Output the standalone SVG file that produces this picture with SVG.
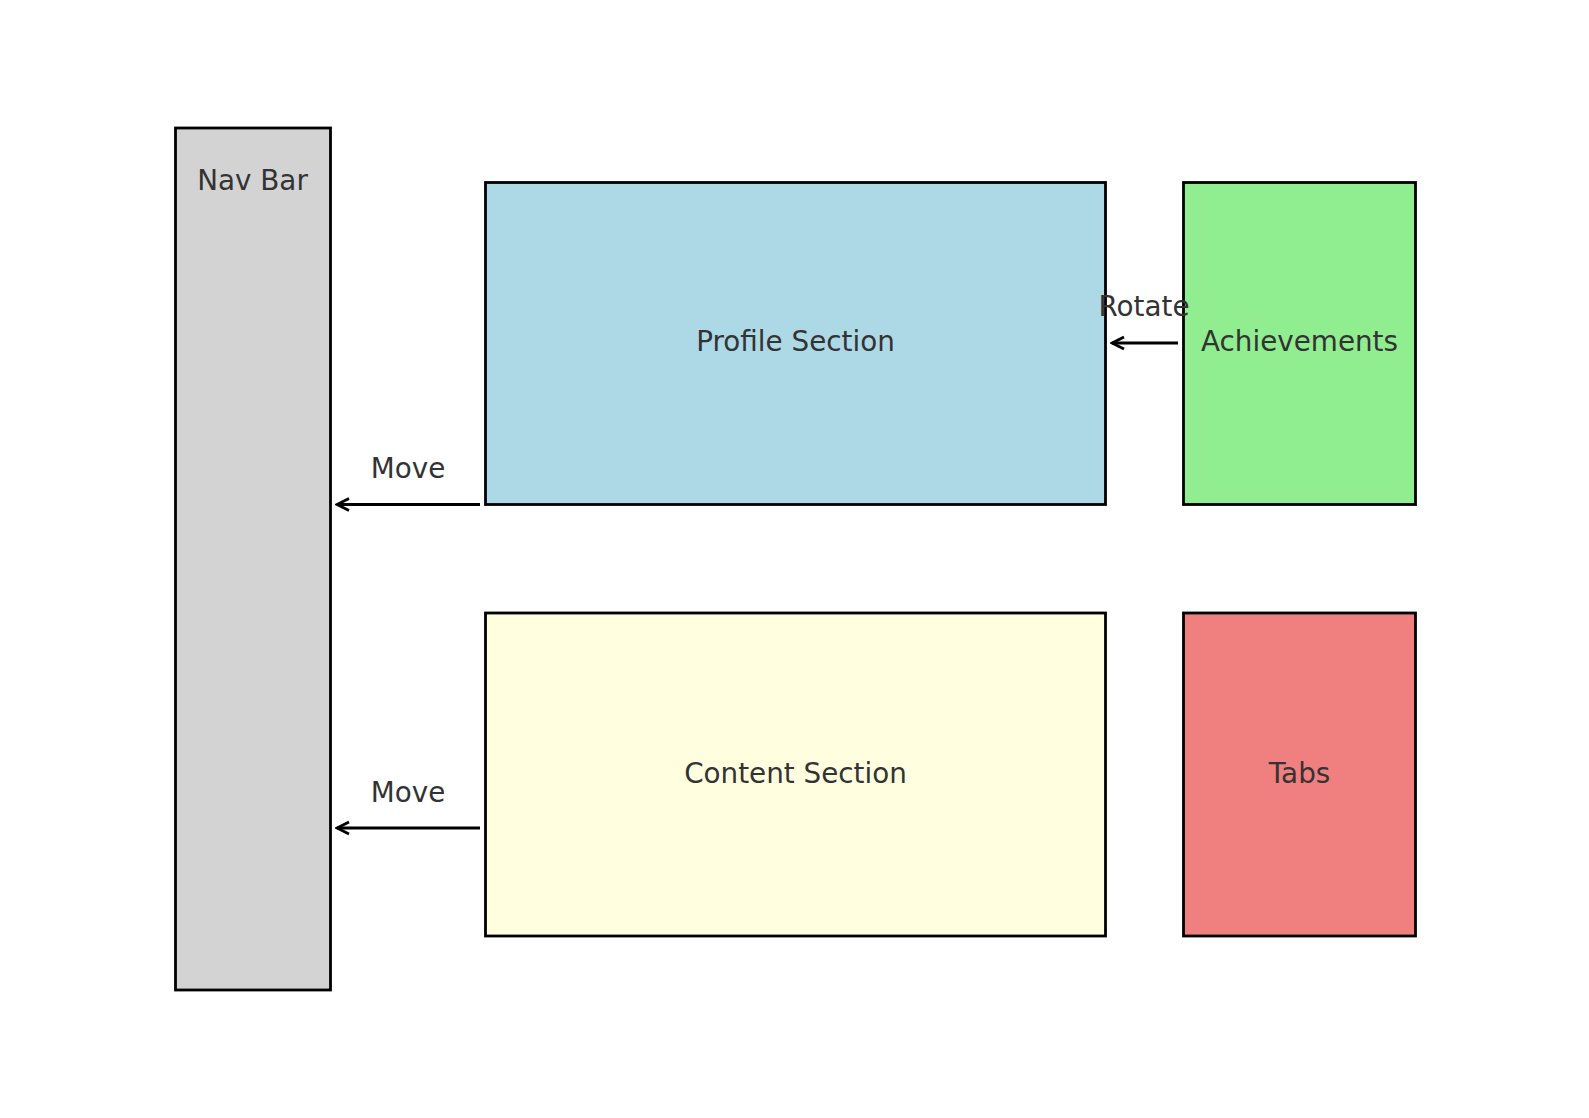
<svg xmlns="http://www.w3.org/2000/svg" width="1589" height="1118" viewBox="0 0 1589 1118">
<style>
.box{stroke:#000;stroke-width:2.8}
.t{font-family:"DejaVu Sans",sans-serif;font-size:27.8px;fill:#333;text-anchor:middle}
.c{stroke:#000;stroke-width:2.8;fill:none}
</style>
<defs>
<marker id="ah" viewBox="0 0 20 20" refX="18" refY="10" markerWidth="20" markerHeight="20" markerUnits="userSpaceOnUse" orient="auto">
<path d="M6,4 L18,10 L6,16" fill="none" stroke="#000" stroke-width="2.8"/>
</marker>
</defs>
<rect width="1589" height="1118" fill="#fff"/>
<g id="navbar"><rect class="box" x="175.5" y="128" width="155" height="862" fill="#d3d3d3"/><text class="t" x="252.5" y="190">Nav Bar</text></g>
<g id="profile"><rect class="box" x="485.5" y="182.5" width="620" height="322" fill="#add8e6"/><text class="t" x="795.5" y="351">Profile Section</text></g>
<g id="achievements"><rect class="box" x="1183.5" y="182.5" width="232" height="322" fill="#90ee90"/><text class="t" x="1299.5" y="351">Achievements</text></g>
<g id="content"><rect class="box" x="485.5" y="613" width="620" height="323" fill="#ffffe0"/><text class="t" x="795.5" y="783">Content Section</text></g>
<g id="tabs"><rect class="box" x="1183.5" y="613" width="232" height="323" fill="#f08080"/><text class="t" x="1299.5" y="783">Tabs</text></g>
<g id="connectors">
<line class="c" x1="480" y1="504.5" x2="337" y2="504.5" marker-end="url(#ah)"/>
<text class="t" x="408" y="478">Move</text>
<line class="c" x1="480" y1="828" x2="337" y2="828" marker-end="url(#ah)"/>
<text class="t" x="408" y="802">Move</text>
<line class="c" x1="1178" y1="343" x2="1112" y2="343" marker-end="url(#ah)"/>
<text class="t" x="1144" y="316">Rotate</text>
</g>
</svg>
